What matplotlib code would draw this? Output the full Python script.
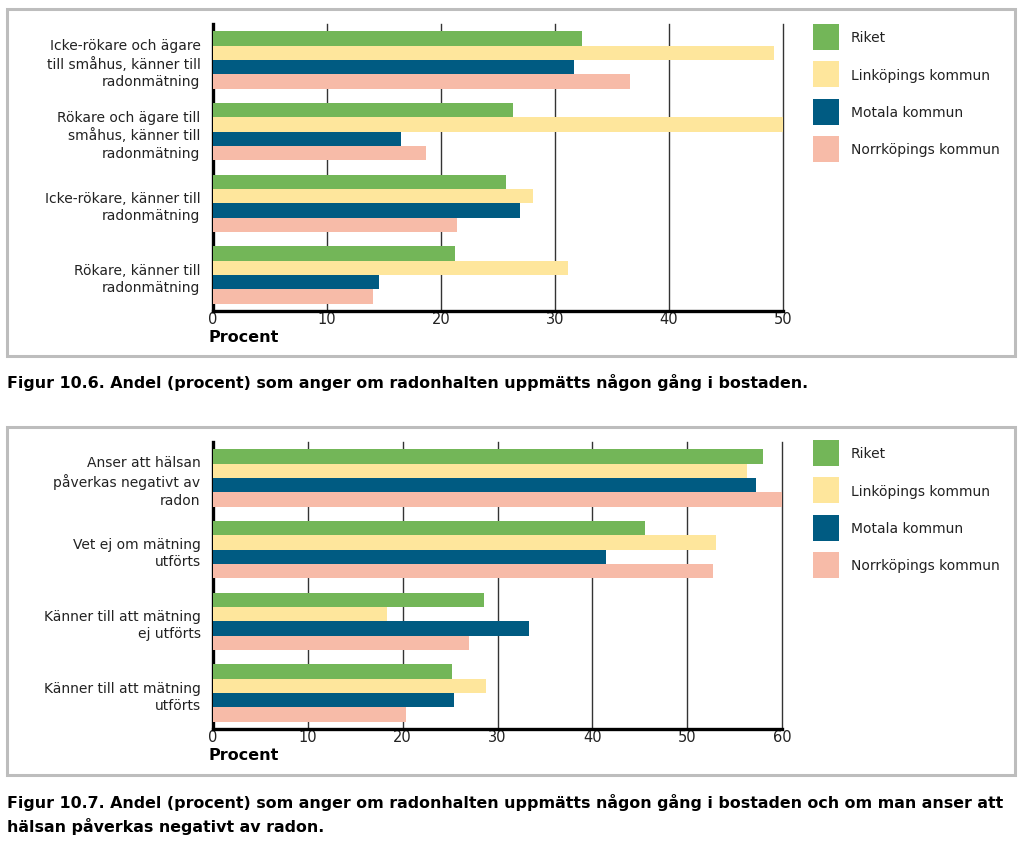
import matplotlib.pyplot as plt
from matplotlib.patches import Rectangle, Patch
import numpy as np

# Data
series = ['Riket', 'Linköpings kommun', 'Motala kommun', 'Norrköpings kommun']
colors = ['#73b658', '#fee69c', '#005b82', '#f7bba8']

categories1 = ['Icke-rökare och ägare\ntill småhus, känner till\nradonmätning',
               'Rökare och ägare till\nsmåhus, känner till\nradonmätning',
               'Icke-rökare, känner till\nradonmätning',
               'Rökare, känner till\nradonmätning']
riket1 = [32.4, 26.3, 25.7, 21.2]
linkoping1 = [49.2, 50.0, 28.1, 31.1]
motala1 = [31.7, 16.5, 26.9, 14.6]
norrkoping1 = [36.6, 18.7, 21.4, 14.0]
xticks1 = [0, 10, 20, 30, 40, 50]

categories2 = ['Anser att hälsan\npåverkas negativt av\nradon',
               'Vet ej om mätning\nutförts',
               'Känner till att mätning\nej utförts',
               'Känner till att mätning\nutförts']
riket2 = [58.0, 45.6, 28.6, 25.2]
linkoping2 = [56.3, 53.0, 18.4, 28.8]
motala2 = [57.3, 41.4, 33.3, 25.4]
norrkoping2 = [60.0, 52.7, 27.0, 20.3]
xticks2 = [0, 10, 20, 30, 40, 50, 60]

caption1 = 'Figur 10.6. Andel (procent) som anger om radonhalten uppmätts någon gång i bostaden.'
caption2 = ('Figur 10.7. Andel (procent) som anger om radonhalten uppmätts någon gång i bostaden och om man anser att\n'
            'hälsan påverkas negativt av radon.')

W, H = 1024, 845
fig = plt.figure(figsize=(W / 100, H / 100), dpi=100)


def px_rect(x0, y0, x1, y1):
    # pixel box (top-left origin) -> figure fraction [left, bottom, width, height]
    return [x0 / W, 1 - y1 / H, (x1 - x0) / W, (y1 - y0) / H]


def draw_panel(box, ax_box, cats, values, xticks, leg_xy, proc_y):
    # grey frame
    l, b, w, h = px_rect(*box)
    fig.add_artist(Rectangle((l, b), w, h, transform=fig.transFigure,
                             fill=False, edgecolor='#bdbdbd', linewidth=2.2))
    ax = fig.add_axes(px_rect(*ax_box))
    y = np.arange(len(cats))
    bh = 0.2
    for i, (vals, c) in enumerate(zip(values, colors)):
        ax.barh(y - 0.3 + i * bh, vals, height=bh, color=c, zorder=3)
    ax.set_ylim(len(cats) - 0.5, -0.5)
    ax.set_xlim(0, xticks[-1])
    ax.set_xticks(xticks)
    ax.set_yticks(y)
    ax.set_yticklabels(cats, fontsize=10, color='#222222', linespacing=1.3)
    ax.tick_params(axis='x', length=0, pad=0, labelsize=10.5, colors='#222222')
    ax.tick_params(axis='y', length=0, pad=9)
    for s in ['top', 'right']:
        ax.spines[s].set_visible(False)
    for s in ['left', 'bottom']:
        ax.spines[s].set_linewidth(2.4)
        ax.spines[s].set_color('black')
    ax.grid(axis='x', color='#333333', linewidth=1.0)
    for gl in ax.get_xgridlines():
        gl.set_clip_on(False)
    ax.set_axisbelow(True)
    fig.text(209 / W, 1 - proc_y / H, 'Procent', fontsize=11.5, fontweight='bold',
             ha='left', va='center')
    handles = [Patch(facecolor=c, edgecolor='none') for c in colors]
    fig.legend(handles, series, loc='upper left',
               bbox_to_anchor=(leg_xy[0] / W, 1 - leg_xy[1] / H),
               bbox_transform=fig.transFigure, frameon=False,
               fontsize=10, handlelength=1.87, handleheight=2.5,
               labelspacing=0.82, handletextpad=0.85, borderpad=0,
               borderaxespad=0, labelcolor='#222222')
    return ax


draw_panel((7, 10, 1015, 357), (213, 25, 783, 312), categories1,
           [riket1, linkoping1, motala1, norrkoping1], xticks1, (813, 25), 338)
draw_panel((7, 428, 1015, 776), (213, 443, 782, 730), categories2,
           [riket2, linkoping2, motala2, norrkoping2], xticks2, (813, 441), 756)

fig.text(7 / W, 1 - 383 / H, caption1, fontsize=11.4, fontweight='bold',
         ha='left', va='center')
fig.text(7 / W, 1 - 794 / H, caption2, fontsize=11.4, fontweight='bold',
         ha='left', va='top', linespacing=1.5)

fig.savefig('out.png', dpi=100)
